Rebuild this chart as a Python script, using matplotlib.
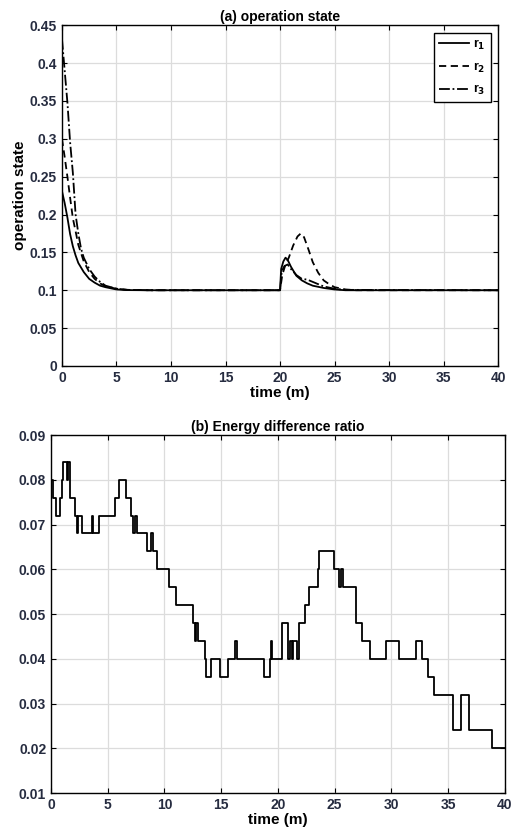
import matplotlib.pyplot as plt
import numpy as np

plt.rcParams['font.family'] = ['Liberation Sans', 'DejaVu Sans']
plt.rcParams['font.weight'] = 'bold'

# (a) operation state
t_r1 = [0, 0.25, 0.5, 0.75, 1, 1.25, 1.5, 2, 2.5, 3, 3.5, 4, 5, 6, 8, 20,
        20.1, 20.3, 20.5, 20.7, 21, 21.5, 22, 22.5, 23, 24, 25, 26, 40]
r1 = [0.231, 0.215, 0.196, 0.174, 0.158, 0.146, 0.136, 0.124, 0.115, 0.110, 0.106, 0.104, 0.101, 0.1002, 0.1, 0.1,
      0.128, 0.138, 0.143, 0.140, 0.131, 0.119, 0.113, 0.109, 0.106, 0.103, 0.101, 0.1, 0.1]

t_r2 = [0, 0.25, 0.5, 0.75, 1, 1.25, 1.5, 2, 2.5, 3, 3.5, 4, 5, 6, 8, 20,
        20.2, 20.5, 20.8, 21.2, 21.6, 21.9, 22.2, 22.6, 23, 23.5, 24, 24.5, 25, 26, 27, 40]
r2 = [0.300, 0.276, 0.250, 0.222, 0.195, 0.178, 0.160, 0.138, 0.124, 0.115, 0.109, 0.105, 0.102, 0.1005, 0.1, 0.1,
      0.120, 0.134, 0.143, 0.159, 0.171, 0.175, 0.170, 0.154, 0.137, 0.123, 0.113, 0.108, 0.104, 0.101, 0.1, 0.1]

t_r3 = [0, 0.25, 0.5, 0.75, 1, 1.25, 1.5, 1.75, 2, 2.5, 3, 3.5, 4, 5, 6, 8, 20,
        20.15, 20.4, 20.7, 21, 21.5, 22, 22.5, 23, 23.5, 24, 25, 26, 40]
r3 = [0.432, 0.390, 0.348, 0.295, 0.255, 0.200, 0.175, 0.155, 0.143, 0.128, 0.118, 0.111, 0.106, 0.102, 0.1005, 0.1, 0.1,
      0.125, 0.132, 0.134, 0.128, 0.120, 0.115, 0.114, 0.111, 0.108, 0.105, 0.102, 0.1005, 0.1]

# (b) energy difference ratio, step start times and levels
ratio_t = [0, 0.2, 0.45, 0.8, 0.95, 1.05, 1.42, 1.5, 1.7, 2.15, 2.25, 2.42, 2.72, 3.6, 3.7, 4.2,
           5.65, 6.0, 6.6, 7.05, 7.2, 7.4, 7.55, 8.5, 8.8, 8.95, 9.35, 10.4, 11.05, 12.5, 12.7,
           12.8, 12.95, 13.55, 13.65, 14.1, 14.9, 15.6, 16.2, 16.35, 18.8, 19.28, 19.4, 19.5,
           20.35, 20.9, 21.1, 21.2, 21.3, 21.7, 21.85, 22.35, 22.7, 23.55, 23.65, 24.95, 25.4,
           25.6, 25.75, 26.9, 27.45, 28.15, 29.55, 30.7, 32.15, 32.72, 33.22, 33.8, 35.45,
           36.1, 36.85, 38.85, 40]
ratio_v = [0.080, 0.076, 0.072, 0.076, 0.080, 0.084, 0.080, 0.084, 0.076, 0.072, 0.068, 0.072, 0.068, 0.072, 0.068, 0.072,
           0.076, 0.080, 0.076, 0.072, 0.068, 0.072, 0.068, 0.064, 0.068, 0.064, 0.060, 0.056, 0.052, 0.048, 0.044,
           0.048, 0.044, 0.040, 0.036, 0.040, 0.036, 0.040, 0.044, 0.040, 0.036, 0.040, 0.044, 0.040,
           0.048, 0.040, 0.044, 0.040, 0.044, 0.040, 0.048, 0.052, 0.056, 0.060, 0.064, 0.060, 0.056,
           0.060, 0.056, 0.048, 0.044, 0.040, 0.044, 0.040, 0.044, 0.040, 0.036, 0.032, 0.024,
           0.032, 0.024, 0.020, 0.020]

tick_color = '#262c40'
fig = plt.figure(figsize=(5.12, 8.39), dpi=100)
ax1 = fig.add_axes([0.121, 0.5638, 0.852, 0.4062])
ax2 = fig.add_axes([0.0996, 0.0548, 0.8864, 0.4267])


def style(ax):
    ax.grid(True, color='#dcdcdc', lw=0.9)
    ax.set_axisbelow(True)
    ax.tick_params(direction='in', top=True, right=True, length=3.5, width=0.8,
                   labelsize=10, labelcolor=tick_color, pad=3.5)
    for lab in ax.get_xticklabels() + ax.get_yticklabels():
        lab.set_fontweight('bold')
    for s in ax.spines.values():
        s.set_linewidth(1.0)


ax1.plot(t_r1, r1, color='black', lw=1.3, ls='-', label='r$_\\mathbf{1}$')
ax1.plot(t_r2, r2, color='black', lw=1.3, ls=(0, (4, 2.5)), label='r$_\\mathbf{2}$')
ax1.plot(t_r3, r3, color='black', lw=1.3, ls=(0, (6, 1.5, 1, 1.5)), label='r$_\\mathbf{3}$')
ax1.set_xlim(0, 40)
ax1.set_ylim(0, 0.45)
ax1.set_xticks(np.arange(0, 41, 5))
ax1.set_yticks(np.arange(0, 0.451, 0.05))
ax1.set_yticklabels(['0', '0.05', '0.1', '0.15', '0.2', '0.25', '0.3', '0.35', '0.4', '0.45'])
style(ax1)
ax1.set_title('(a) operation state', fontsize=10, fontweight='bold', pad=3)
ax1.set_xlabel('time (m)', fontsize=11, fontweight='bold', labelpad=1)
ax1.set_ylabel('operation state', fontsize=11, fontweight='bold', labelpad=2)
leg = ax1.legend(loc='upper right', fontsize=9, handlelength=2.4, labelspacing=0.7,
                 fancybox=False, edgecolor='black', framealpha=1, borderaxespad=0.6,
                 handletextpad=0.3, borderpad=0.4)
leg.get_frame().set_linewidth(1.0)

ax2.plot(ratio_t, ratio_v, color='black', lw=1.3, drawstyle='steps-post')
ax2.set_xlim(0, 40)
ax2.set_ylim(0.01, 0.09)
ax2.set_xticks(np.arange(0, 41, 5))
ax2.set_yticks(np.arange(0.01, 0.0901, 0.01))
ax2.set_yticklabels(['0.01', '0.02', '0.03', '0.04', '0.05', '0.06', '0.07', '0.08', '0.09'])
style(ax2)
ax2.set_title('(b) Energy difference ratio', fontsize=10, fontweight='bold', pad=3)
ax2.set_xlabel('time (m)', fontsize=11, fontweight='bold', labelpad=1)

fig.savefig('out.png', dpi=100)
